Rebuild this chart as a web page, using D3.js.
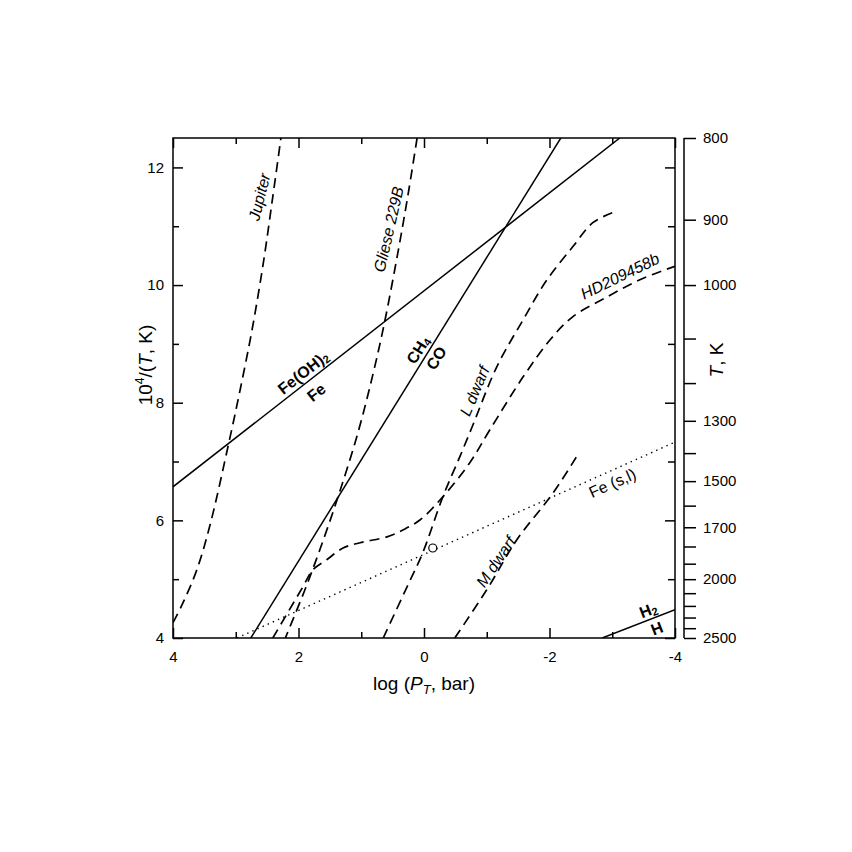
<!DOCTYPE html>
<html>
  <head>
    <meta charset="utf-8">
    <script src="https://d3js.org/d3.v7.min.js"></script>
    <style>
      body { margin: 0; background: #fff; }
      text { font-family: "Liberation Sans", Arial, sans-serif; fill: #000; }
    </style>
  </head>
  <body>
    <svg width="852" height="852"></svg>
  <script>
    // log P ticks (bar) and 10^4/T ticks
    const xMajor = [4, 2, 0, -2, -4];
    const xMinor = [3, 1, -1, -3];
    const yMajor = [4, 6, 8, 10, 12];
    const yMinor = [5, 7, 9, 11];
    // temperature axis (K)
    const tTicks = [800, 900, 1000, 1100, 1200, 1300, 1400, 1500, 1600, 1700, 1800, 1900, 2000, 2100, 2200, 2300, 2400, 2500];
    const tLabels = [800, 900, 1000, 1300, 1500, 1700, 2000, 2500];

    // profiles: [log P, 10^4/T]
    const jupiter = [[4.00, 4.26], [3.84, 4.60], [3.62, 5.16], [3.41, 5.92], [3.11, 7.32], [2.93, 8.22],
      [2.74, 9.24], [2.56, 10.38], [2.41, 11.50], [2.28, 12.50]];
    const gliese = [[0.11, 12.5], [0.26, 11.5], [0.425, 10.5], [0.63, 9.36], [0.81, 8.5], [1.05, 7.5],
      [1.37, 6.4], [1.66, 5.5], [1.905, 4.8], [2.21, 4.0]];
    const hd209458b = [[2.41, 4.00], [1.93, 4.87], [1.77, 5.16], [1.55, 5.33], [1.29, 5.53], [1.02, 5.62],
      [0.59, 5.72], [0.33, 5.84], [0.06, 6.01], [-0.30, 6.40], [-0.73, 6.98], [-1.05, 7.54], [-1.58, 8.44],
      [-2.01, 9.07], [-2.37, 9.46], [-2.92, 9.80], [-3.44, 10.09], [-4.00, 10.32]];
    const lDwarf = [[0.65, 4.00], [0.27, 4.87], [0.02, 5.45], [-0.30, 6.40], [-0.57, 7.08], [-0.76, 7.57],
      [-1.16, 8.61], [-1.58, 9.41], [-1.96, 10.09], [-2.37, 10.65], [-2.69, 11.06], [-3.00, 11.23]];
    const mDwarf = [[-0.49, 4.00], [-1.00, 4.82], [-1.48, 5.67], [-2.06, 6.47], [-2.47, 7.15]];

    // equilibrium boundaries
    const feOH2 = [[4, 6.57], [-3.12, 12.5]];
    const ch4co = [[2.76, 4], [-2.18, 12.5]];
    const h2h = [[-2.84, 4], [-4, 4.48]];
    const feSL = [[2.98, 4], [-4, 7.33]];
    const marker = [-0.14, 5.53];

    // labels: text, logP, 10^4/T, angle, style
    const labels = [
      { t: "Jupiter", x: 2.63, y: 11.50, a: -76, s: "italic" },
      { t: "Gliese 229B", x: 0.57, y: 10.95, a: -77, s: "italic" },
      { t: "L dwarf", x: -0.80, y: 8.20, a: -67, s: "italic" },
      { t: "M dwarf", x: -1.14, y: 5.30, a: -56, s: "italic" },
      { t: "HD209458b", x: -3.12, y: 10.16, a: -26, s: "italic" },
      { t: "Fe (s,l)", x: -3.00, y: 6.64, a: -24, s: "normal" },
      { t: "Fe(OH)", sub: "2", x: 1.93, y: 8.52, a: -38, s: "bold" },
      { t: "Fe", x: 1.72, y: 8.18, a: -38, s: "bold" },
      { t: "CH", sub: "4", x: 0.10, y: 8.90, a: -58, s: "bold" },
      { t: "CO", x: -0.19, y: 8.76, a: -58, s: "bold" },
      { t: "H", sub: "2", x: -3.57, y: 4.48, a: -21, s: "bold" },
      { t: "H", x: -3.71, y: 4.17, a: -21, s: "bold" }
    ];

    const svg = d3.select("svg");
    const pL = 173, pR = 675, pT = 138, pB = 638;

    const x = d3.scaleLinear().domain([4, -4]).range([pL, pR]);
    const y = d3.scaleLinear().domain([4, 12.5]).range([pB, pT]);

    const line = d3.line().x(d => x(d[0])).y(d => y(d[1]));
    const curve = d3.line().x(d => x(d[0])).y(d => y(d[1])).curve(d3.curveCatmullRom.alpha(0.5));

    svg.append("clipPath").attr("id", "plot")
      .append("rect").attr("x", pL).attr("y", pT).attr("width", pR - pL).attr("height", pB - pT);

    const g = svg.append("g").attr("clip-path", "url(#plot)");

    // solid boundaries
    [feOH2, ch4co, h2h].forEach(d => {
      g.append("path").attr("d", line(d)).attr("fill", "none").attr("stroke", "#000").attr("stroke-width", 1.5);
    });
    g.append("path").attr("d", line(feSL)).attr("fill", "none").attr("stroke", "#000")
      .attr("stroke-width", 1.4).attr("stroke-dasharray", "1.4,4.2");

    // dashed profiles
    [jupiter, gliese, hd209458b, lDwarf, mDwarf].forEach(d => {
      g.append("path").attr("d", curve(d)).attr("fill", "none").attr("stroke", "#000")
        .attr("stroke-width", 1.7).attr("stroke-dasharray", "10,6");
    });

    svg.append("circle").attr("cx", x(marker[0])).attr("cy", y(marker[1])).attr("r", 4)
      .attr("fill", "#fff").attr("stroke", "#000").attr("stroke-width", 1.2);

    // frame
    svg.append("rect").attr("x", pL).attr("y", pT).attr("width", pR - pL).attr("height", pB - pT)
      .attr("fill", "none").attr("stroke", "#000").attr("stroke-width", 1.5);

    function styleAxis(sel) {
      sel.select(".domain").remove();
      sel.selectAll(".tick line").attr("stroke", "#000").attr("stroke-width", 1.5);
      sel.selectAll(".tick text").attr("font-size", 15).attr("fill", "#000")
        .attr("font-family", '"Liberation Sans", Arial, sans-serif');
    }
    const fmt = d => String(d);

    // bottom axis
    svg.append("g").attr("transform", `translate(0,${pB})`)
      .call(d3.axisBottom(x).tickValues(xMajor).tickSizeInner(-10).tickSizeOuter(0).tickPadding(13)
        .tickFormat(fmt))
      .call(styleAxis);
    svg.append("g").attr("transform", `translate(0,${pB})`)
      .call(d3.axisBottom(x).tickValues(xMinor).tickSizeInner(-6).tickSizeOuter(0).tickFormat(""))
      .call(styleAxis);
    // top axis
    svg.append("g").attr("transform", `translate(0,${pT})`)
      .call(d3.axisTop(x).tickValues(xMajor).tickSizeInner(-10).tickSizeOuter(0).tickFormat(""))
      .call(styleAxis);
    svg.append("g").attr("transform", `translate(0,${pT})`)
      .call(d3.axisTop(x).tickValues(xMinor).tickSizeInner(-6).tickSizeOuter(0).tickFormat(""))
      .call(styleAxis);
    // left axis
    svg.append("g").attr("transform", `translate(${pL},0)`)
      .call(d3.axisLeft(y).tickValues(yMajor).tickSizeInner(-10).tickSizeOuter(0).tickPadding(9)
        .tickFormat(fmt))
      .call(styleAxis);
    svg.append("g").attr("transform", `translate(${pL},0)`)
      .call(d3.axisLeft(y).tickValues(yMinor).tickSizeInner(-6).tickSizeOuter(0).tickFormat(""))
      .call(styleAxis);
    // right frame ticks
    svg.append("g").attr("transform", `translate(${pR},0)`)
      .call(d3.axisRight(y).tickValues(yMajor).tickSizeInner(-10).tickSizeOuter(0).tickFormat(""))
      .call(styleAxis);
    svg.append("g").attr("transform", `translate(${pR},0)`)
      .call(d3.axisRight(y).tickValues(yMinor).tickSizeInner(-7).tickSizeOuter(0).tickFormat(""))
      .call(styleAxis);

    // temperature axis
    const tx = pR + 9;
    svg.append("line").attr("x1", tx).attr("x2", tx).attr("y1", pT).attr("y2", pB)
      .attr("stroke", "#000").attr("stroke-width", 1.5);
    svg.append("g").attr("transform", `translate(${tx},0)`)
      .call(d3.axisRight(y).tickValues(tTicks.map(t => 1e4 / t)).tickSizeInner(12).tickSizeOuter(0)
        .tickPadding(7)
        .tickFormat(v => {
          const t = Math.round(1e4 / v);
          return tLabels.includes(t) ? t : "";
        }))
      .call(styleAxis);

    // axis titles
    const xt = svg.append("text").attr("x", 424).attr("y", 690).attr("text-anchor", "middle").attr("font-size", 19);
    xt.append("tspan").text("log (");
    xt.append("tspan").attr("font-style", "italic").text("P");
    xt.append("tspan").attr("font-style", "italic").attr("font-size", 13).attr("dy", 4).text("T");
    xt.append("tspan").attr("dy", -4).text(", bar)");

    const yt = svg.append("text").attr("transform", "translate(152,365) rotate(-90)")
      .attr("text-anchor", "middle").attr("font-size", 19);
    yt.append("tspan").text("10");
    yt.append("tspan").attr("font-size", 12).attr("dy", -8).text("4");
    yt.append("tspan").attr("dy", 8).text("/(");
    yt.append("tspan").attr("font-style", "italic").text("T");
    yt.append("tspan").text(", K)");

    const tt = svg.append("text").attr("transform", "translate(723,360) rotate(-90)")
      .attr("text-anchor", "middle").attr("font-size", 19);
    tt.append("tspan").attr("font-style", "italic").text("T");
    tt.append("tspan").text(", K");

    // curve and boundary labels
    labels.forEach(l => {
      const t = svg.append("text")
        .attr("transform", `translate(${x(l.x)},${y(l.y)}) rotate(${l.a})`)
        .attr("text-anchor", "middle").attr("dominant-baseline", "central")
        .attr("font-size", 16)
        .attr("font-style", l.s === "italic" ? "italic" : "normal")
        .attr("font-weight", l.s === "bold" ? "bold" : "normal");
      t.append("tspan").text(l.t);
      if (l.sub) t.append("tspan").attr("font-size", 11).attr("dy", 4).text(l.sub);
    });
  </script>
  </body>
</html>
